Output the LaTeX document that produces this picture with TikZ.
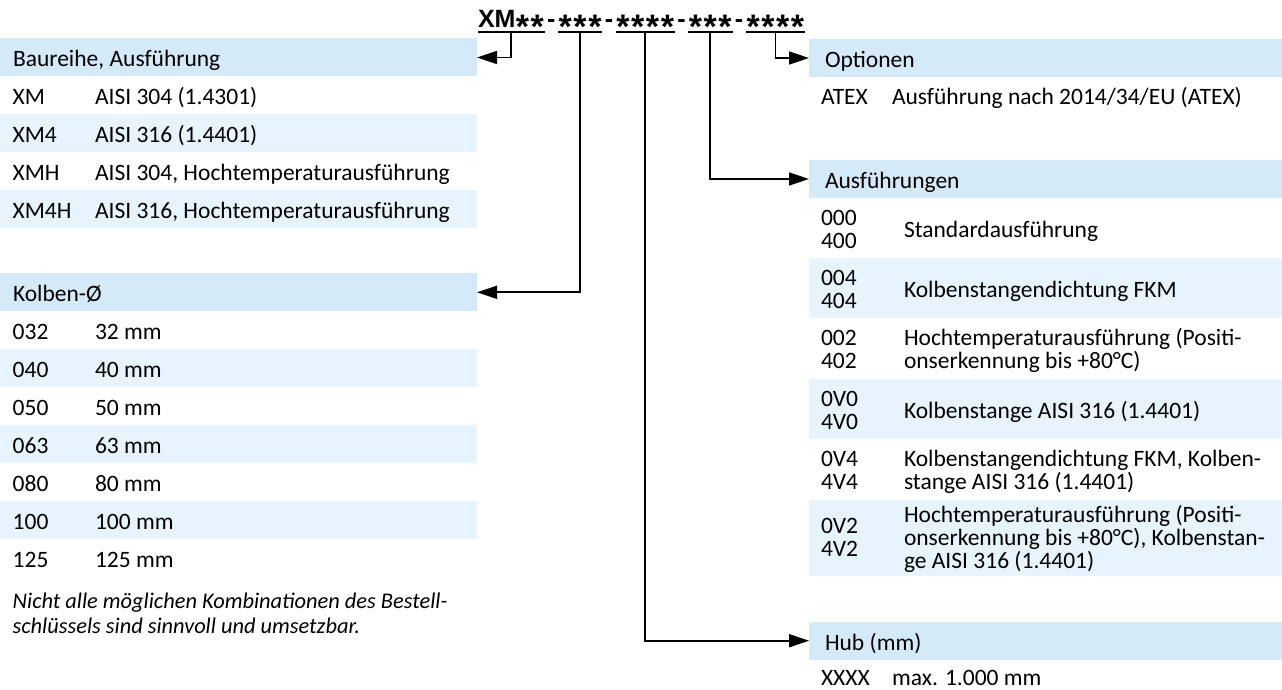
\documentclass[tikz,border=0pt]{standalone}
\usepackage{fontspec}
\setmainfont{Carlito}
\newfontfamily\codefont{Liberation Sans}
\usetikzlibrary{arrows.meta}
\definecolor{hdrblue}{RGB}{213,234,249}
\definecolor{rowblue}{RGB}{231,244,253}
\newcommand\cstar{\makebox[14.8pt]{\fontsize{34pt}{34pt}\selectfont\raisebox{-11pt}{*}}}
\newcommand\cdash{\makebox[13.3pt]{-}}
\begin{document}
\begin{tikzpicture}[x=1pt,y=1pt,
  every node/.style={inner sep=0pt, outer sep=0pt, font=\fontsize{23.5pt}{24pt}\selectfont},
  txt/.style={anchor=base west},
  code/.style={anchor=base west, inner ysep=4pt, text depth=0pt,
    font=\codefont\bfseries\fontsize{25pt}{25pt}\selectfont},
  hdrL/.style={fill=hdrblue, anchor=north west, minimum width=477pt, minimum height=38pt,
    text width=451pt, inner xsep=13pt, align=flush left, text height=19pt, text depth=0pt},
  hdrR/.style={fill=hdrblue, anchor=north west, minimum width=473pt, minimum height=38pt,
    text width=441pt, inner xsep=16pt, align=flush left, text height=19pt, text depth=0pt},
  uline/.style={line width=1.7pt},
  conn/.style={line width=1.7pt, -{Triangle[length=20pt,width=13pt]}},
  note/.style={anchor=base west, font=\fontsize{22.4pt}{25pt}\selectfont\itshape}
]
\useasboundingbox (0,0) rectangle (1282,-690);

% ---------- code header ----------
\node[code] (g1) at (478,-28) {\makebox[37pt][l]{XM}\cstar\cstar};
\node[code] (d1) at (g1.base east) {\cdash};
\node[code] (g2) at (d1.base east) {\cstar\cstar\cstar};
\node[code] (d2) at (g2.base east) {\cdash};
\node[code] (g3) at (d2.base east) {\cstar\cstar\cstar\cstar};
\node[code] (d3) at (g3.base east) {\cdash};
\node[code] (g4) at (d3.base east) {\cstar\cstar\cstar};
\node[code] (d4) at (g4.base east) {\cdash};
\node[code] (g5) at (d4.base east) {\cstar\cstar\cstar\cstar};
\foreach \g in {g1,g2,g3,g4,g5} \draw[uline] (\g.south west) -- (\g.south east);

% ---------- left: Baureihe ----------
\fill[rowblue] (0,-114.4) rectangle (477,-152.3);
\fill[rowblue] (0,-190.2) rectangle (477,-228.1);
\node[hdrL] (bau) at (0,-38.5) {Baureihe, Ausführung};
\node[txt] (b1c) at (12.7,-105.0) {XM};
\node[txt] (b1d) at (95,-105.0) {AISI 304 (1.4301)};
\node[txt] (b2c) at (12.7,-142.9) {XM4};
\node[txt] (b2d) at (95,-142.9) {AISI 316 (1.4401)};
\node[txt] (b3c) at (12.7,-180.8) {XMH};
\node[txt] (b3d) at (95,-180.8) {AISI 304, Hochtemperaturausführung};
\node[txt] (b4c) at (12.7,-218.7) {XM4H};
\node[txt] (b4d) at (95,-218.7) {AISI 316, Hochtemperaturausführung};

% ---------- left: Kolben ----------
\fill[rowblue] (0,-349.1) rectangle (477,-387.0);
\fill[rowblue] (0,-424.9) rectangle (477,-462.8);
\fill[rowblue] (0,-500.7) rectangle (477,-538.6);
\node[hdrL] (kol) at (0,-273.3) {Kolben-Ø};
\node[txt] (k1c) at (12.7,-339.7) {032};
\node[txt] (k1d) at (95,-339.7) {32 mm};
\node[txt] (k2c) at (12.7,-377.6) {040};
\node[txt] (k2d) at (95,-377.6) {40 mm};
\node[txt] (k3c) at (12.7,-415.5) {050};
\node[txt] (k3d) at (95,-415.5) {50 mm};
\node[txt] (k4c) at (12.7,-453.4) {063};
\node[txt] (k4d) at (95,-453.4) {63 mm};
\node[txt] (k5c) at (12.7,-491.3) {080};
\node[txt] (k5d) at (95,-491.3) {80 mm};
\node[txt] (k6c) at (12.7,-529.2) {100};
\node[txt] (k6d) at (95,-529.2) {100 mm};
\node[txt] (k7c) at (12.7,-567.1) {125};
\node[txt] (k7d) at (95,-567.1) {125 mm};

\node[note] (n1) at (12.7,-608) {Nicht alle möglichen Kombinationen des Bestell-};
\node[note] (n2) at (12.7,-633) {schlüssels sind sinnvoll und umsetzbar.};

% ---------- right: Optionen ----------
\node[hdrR] (opt) at (809,-39) {Optionen};
\node[txt] (o1c) at (821,-104.5) {ATEX};
\node[txt] (o1d) at (892,-104.5) {Ausführung nach 2014/34/EU (ATEX)};

% ---------- right: Ausführungen ----------
\fill[rowblue] (809,-258) rectangle (1282,-318);
\fill[rowblue] (809,-379) rectangle (1282,-439);
\fill[rowblue] (809,-500) rectangle (1282,-576);
\node[hdrR] (aus) at (809,-160) {Ausführungen};
\node[txt] (a1c1) at (821,-225) {000};
\node[txt] (a1c2) at (821,-248) {400};
\node[txt] (a1d) at (904,-237) {Standardausführung};
\node[txt] (a2c1) at (821,-285) {004};
\node[txt] (a2c2) at (821,-308) {404};
\node[txt] (a2d) at (904,-297) {Kolbenstangendichtung FKM};
\node[txt] (a3c1) at (821,-345) {002};
\node[txt] (a3c2) at (821,-368) {402};
\node[txt] (a3d1) at (904,-345) {Hochtemperaturausführung (Positi-};
\node[txt] (a3d2) at (904,-368) {onserkennung bis +80°C)};
\node[txt] (a4c1) at (821,-406) {0V0};
\node[txt] (a4c2) at (821,-429) {4V0};
\node[txt] (a4d) at (904,-418) {Kolbenstange AISI 316 (1.4401)};
\node[txt] (a5c1) at (821,-466) {0V4};
\node[txt] (a5c2) at (821,-489) {4V4};
\node[txt] (a5d1) at (904,-466) {Kolbenstangendichtung FKM, Kolben-};
\node[txt] (a5d2) at (904,-489) {stange AISI 316 (1.4401)};
\node[txt] (a6c1) at (821,-533) {0V2};
\node[txt] (a6c2) at (821,-556.5) {4V2};
\node[txt] (a6d1) at (904,-522) {Hochtemperaturausführung (Positi-};
\node[txt] (a6d2) at (904,-545) {onserkennung bis +80°C), Kolbenstan-};
\node[txt] (a6d3) at (904,-568) {ge AISI 316 (1.4401)};

% ---------- right: Hub ----------
\node[hdrR] (hub) at (809,-621.7) {Hub (mm)};
\node[txt] (h1c) at (821,-685) {XXXX};
\node[txt] (h1d) at (892,-685) {max. 1.000 mm};

% ---------- connectors ----------
\draw[conn] (g1.south) |- (bau.east);
\draw[conn] (g2.south) |- (kol.east);
\draw[conn] (g3.south) |- (hub.west);
\draw[conn] (g4.south) |- (aus.west);
\draw[conn] (g5.south) |- (opt.west);
\end{tikzpicture}
\end{document}
